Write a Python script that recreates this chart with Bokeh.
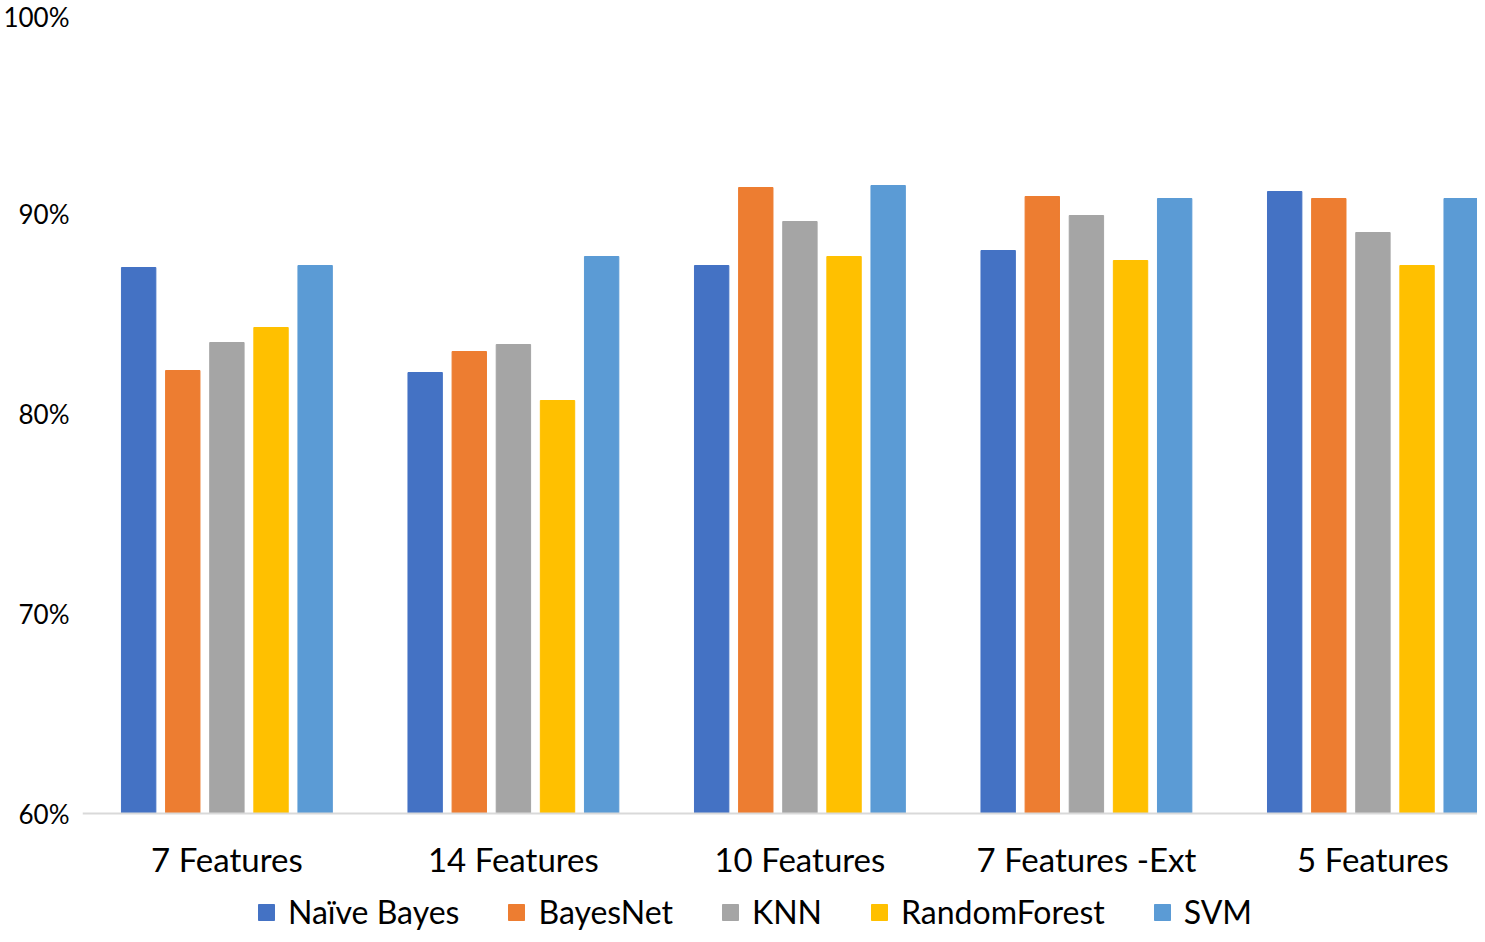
from bokeh.plotting import figure
from bokeh.models import ColumnDataSource, FixedTicker, Legend, LegendItem, Range1d
from bokeh.embed import file_html
from bokeh.resources import INLINE

categories = ["7 Features", "14 Features", "10 Features", "7 Features -Ext", "5 Features"]
series = ["Naïve Bayes", "BayesNet", "KNN", "RandomForest", "SVM"]
naive_bayes = [87.3, 82.05, 87.4, 88.15, 91.1]
bayesnet = [82.15, 83.1, 91.3, 90.85, 90.75]
knn = [83.55, 83.45, 89.6, 89.9, 89.05]
random_forest = [84.3, 80.65, 87.85, 87.65, 87.4]
svm = [87.4, 87.85, 91.4, 90.75, 90.75]
y_ticks = [60, 70, 80, 90, 100]
y_tick_labels = ["60%", "70%", "80%", "90%", "100%"]

colors = ["#4472C4", "#ED7D31", "#A5A5A5", "#FFC000", "#5B9BD5"]
values = [naive_bayes, bayesnet, knn, random_forest, svm]

FONT = "Lato"

H = 932
TOP = 13
frame_h = H - TOP
px_per_unit = 800 / 40.0
y_start = 60 - (frame_h - 800) / px_per_unit

p = figure(width=1477, height=H, output_backend="svg", toolbar_location=None,
           x_range=Range1d(-0.004, 4.865), y_range=Range1d(y_start, 100),
           min_border_left=77, min_border_right=0, min_border_top=TOP, min_border_bottom=0)
p.outline_line_color = None
p.xgrid.grid_line_color = None
p.ygrid.grid_line_color = None

pitch = 0.154
bw = 0.12
renderers = []
for k, (name, vals, col) in enumerate(zip(series, values, colors)):
    xs = [i + 0.5 + (k - 2) * pitch for i in range(len(categories))]
    src = ColumnDataSource(dict(x=xs, top=vals))
    r = p.vbar(x="x", top="top", bottom=60, width=bw, source=src,
               fill_color=col, line_color=col, line_width=1)
    renderers.append((name, r))

# x axis, fixed at the 60% baseline
p.xaxis.fixed_location = 60
p.xaxis.ticker = FixedTicker(ticks=[i + 0.5 for i in range(len(categories))])
p.xaxis.major_label_overrides = {i + 0.5: c for i, c in enumerate(categories)}
p.xaxis.axis_line_color = "#D9D9D9"
p.xaxis.axis_line_width = 2
p.xaxis.major_tick_line_color = None
p.xaxis.minor_tick_line_color = None
p.xaxis.major_tick_out = 0
p.xaxis.major_label_standoff = 25
p.xaxis.major_label_text_font = FONT
p.xaxis.major_label_text_font_size = "33px"
p.xaxis.major_label_text_color = "#000000"

# y axis
p.yaxis.ticker = FixedTicker(ticks=y_ticks)
p.yaxis.major_label_overrides = {t: l for t, l in zip(y_ticks, y_tick_labels)}
p.yaxis.axis_line_color = None
p.yaxis.major_tick_line_color = None
p.yaxis.minor_tick_line_color = None
p.yaxis.major_tick_out = 0
p.yaxis.major_label_standoff = 13
p.yaxis.major_label_text_font = FONT
p.yaxis.major_label_text_font_size = "26px"
p.yaxis.major_label_text_color = "#000000"

legend = Legend(items=[LegendItem(label=n, renderers=[r]) for n, r in renderers],
                orientation="horizontal", location=(174, 1),
                glyph_width=20, glyph_height=20, label_standoff=12, spacing=47,
                padding=0, margin=0, border_line_color=None, background_fill_alpha=0,
                label_text_font=FONT, label_text_font_size="32px",
                label_text_color="#000000")
p.add_layout(legend, "center")

open("out.html", "w").write(file_html(p, INLINE))
